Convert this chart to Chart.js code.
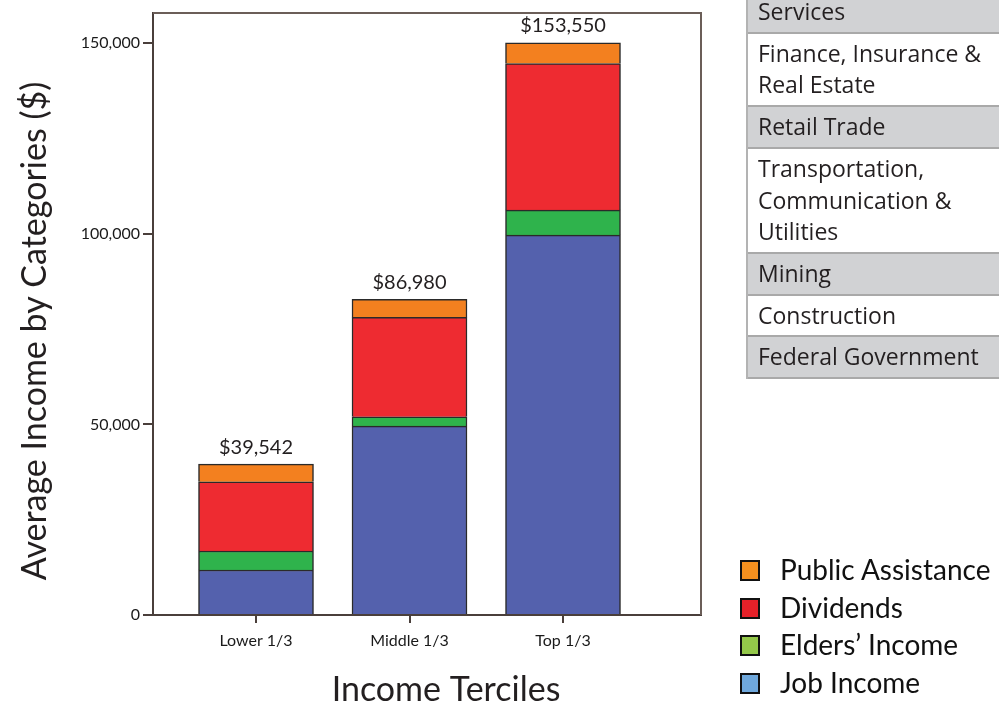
<!DOCTYPE html>
<html>
<head>
<meta charset="utf-8">
<script src="https://cdn.jsdelivr.net/npm/chart.js@4/dist/chart.umd.min.js"></script>
<style>
  body { margin: 0; background: #fff; }
  #wrap { position: relative; width: 999px; height: 715px; overflow: hidden; }
  #industryTable { position: absolute; left: 746px; top: -8px; width: 260px;
    border-left: 2px solid #b3b3b3; font-family: "Open Sans", sans-serif; font-size: 23px;
    color: #231f20; }
  #industryTable div { padding: 4px 0 4px 10px; line-height: 31.7px; border-bottom: 2px solid #a9a9a9; }
  #industryTable div.shade { background: #d1d2d4; }
  #legendBox { position: absolute; left: 740px; top: 551px; font-family: Lato, sans-serif;
    font-size: 28px; color: #111; }
  #legendBox .item { height: 37.5px; line-height: 37.5px; white-space: nowrap; }
  #legendBox .swatch { display: inline-block; width: 16px; height: 17px; border: 2px solid #111;
    vertical-align: middle; margin-right: 20px; position: relative; top: -2px; }
</style>
</head>
<body>
<div id="wrap">
  <canvas id="incomeChart" width="999" height="715"></canvas>
  <div id="industryTable"></div>
  <div id="legendBox"></div>
</div>
<script>
const terciles = ['Lower 1/3', 'Middle 1/3', 'Top 1/3'];
const jobIncome = [11800, 49560, 99640];
const eldersIncome = [4980, 2440, 6550];
const dividends = [18170, 26060, 38470];
const publicAssistance = [4640, 4720, 5400];
const totalLabels = ['$39,542', '$86,980', '$153,550'];
const yTicks = [0, 50000, 100000, 150000];
const yMax = 157900;

const seriesNames = ['Job Income', "Elders\u2019 Income", 'Dividends', 'Public Assistance'];
const barColors = ['#5461ad', '#2fb34c', '#ee2b31', '#f3801f'];
const legendColors = ['#6fa8dc', '#94c84a', '#e62129', '#f4901f'];

const industries = [
    'Services',
    'Finance, Insurance &<br>Real Estate',
    'Retail Trade',
    'Transportation,<br>Communication &<br>Utilities',
    'Mining',
    'Construction',
    'Federal Government'
];

// side table of industries
const table = document.getElementById('industryTable');
industries.forEach((name, i) => {
    const row = document.createElement('div');
    if (i % 2 === 0) row.className = 'shade';
    row.innerHTML = name;
    table.appendChild(row);
});

const allSeries = [jobIncome, eldersIncome, dividends, publicAssistance];

// legend, top to bottom reversed from stacking order
const legendBox = document.getElementById('legendBox');
for (let i = seriesNames.length - 1; i >= 0; i--) {
    const item = document.createElement('div');
    item.className = 'item';
    item.innerHTML = '<span class="swatch" style="background:' + legendColors[i] + '"></span>' + seriesNames[i];
    legendBox.appendChild(item);
}

// draw top and right frame lines
const framePlugin = {
    id: 'frame',
    afterDraw(chart) {
        const { ctx, chartArea } = chart;
        ctx.save();
        ctx.strokeStyle = '#6b5e58';
        ctx.lineWidth = 2;
        ctx.beginPath();
        ctx.moveTo(chartArea.left, chartArea.top);
        ctx.lineTo(chartArea.right, chartArea.top);
        ctx.lineTo(chartArea.right, chartArea.bottom);
        ctx.stroke();
        ctx.restore();
    }
};

// axis titles, a little off-centre as in the original figure
const titlesPlugin = {
    id: 'axisTitles',
    afterDraw(chart) {
        const { ctx, chartArea } = chart;
        ctx.save();
        ctx.font = '34px Lato, sans-serif';
        ctx.fillStyle = '#231f20';
        ctx.textAlign = 'center';
        ctx.textBaseline = 'middle';
        ctx.fillText('Income Terciles', (chartArea.left + chartArea.right) / 2 + 19, 690);
        ctx.translate(35, (chartArea.top + chartArea.bottom) / 2 + 17);
        ctx.rotate(-Math.PI / 2);
        ctx.fillText('Average Income by Categories ($)', 0, 0);
        ctx.restore();
    }
};

// total labels above each stack
const totalsPlugin = {
    id: 'totals',
    afterDatasetsDraw(chart) {
        const { ctx } = chart;
        const meta = chart.getDatasetMeta(chart.data.datasets.length - 1);
        ctx.save();
        ctx.font = '20px Lato, sans-serif';
        ctx.fillStyle = '#231f20';
        ctx.textAlign = 'center';
        ctx.textBaseline = 'middle';
        meta.data.forEach((bar, i) => {
            ctx.fillText(totalLabels[i], bar.x, bar.y - 17);
        });
        ctx.restore();
    }
};

const axisColor = '#4a3f3b';

new Chart(document.getElementById('incomeChart'), {
    type: 'bar',
    data: {
        datasets: allSeries.map((values, s) => ({
            label: seriesNames[s],
            data: values.map((v, i) => ({ x: i + 1, y: v })),
            backgroundColor: barColors[s],
            borderColor: '#2a2a2a',
            borderWidth: 1.5,
            barThickness: 115
        }))
    },
    options: {
        responsive: false,
        animation: false,
        layout: { padding: { top: 13, right: 298, left: 0, bottom: 0 } },
        plugins: { legend: { display: false }, tooltip: { enabled: false } },
        scales: {
            x: {
                type: 'linear',
                stacked: true,
                offset: false,
                min: 0.329,
                max: 3.899,
                afterBuildTicks: scale => { scale.ticks = terciles.map((t, i) => ({ value: i + 1 })); },
                afterFit: scale => { scale.height = 100; },
                ticks: {
                    callback: v => terciles[v - 1],
                    font: { family: 'Lato', size: 16 },
                    color: '#1a1a1a',
                    padding: 8,
                    maxRotation: 0
                },
                grid: { offset: false, drawOnChartArea: false, drawTicks: true, tickLength: 8, color: axisColor, lineWidth: 2 },
                border: { color: axisColor, width: 2 }
            },
            y: {
                stacked: true,
                min: 0,
                max: yMax,
                afterBuildTicks: scale => { scale.ticks = yTicks.map(v => ({ value: v })); },
                afterFit: scale => { scale.width = 153; },
                ticks: {
                    callback: v => v.toLocaleString('en-US'),
                    font: { family: 'Lato', size: 16 },
                    color: '#1a1a1a',
                    padding: 3
                },
                grid: { drawOnChartArea: false, drawTicks: true, tickLength: 10, color: axisColor, lineWidth: 2 },
                border: { color: axisColor, width: 2 }
            }
        }
    },
    plugins: [framePlugin, titlesPlugin, totalsPlugin]
});
</script>
</body>
</html>
